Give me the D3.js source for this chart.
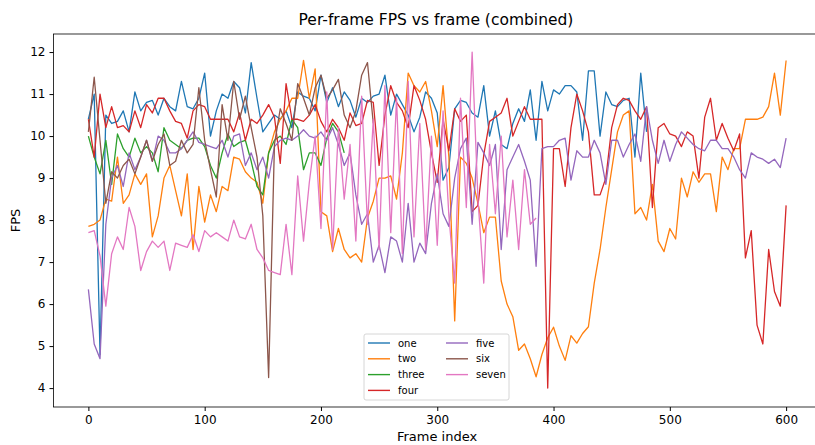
<!DOCTYPE html>
<html>
<head>
<meta charset="utf-8">
<script src="https://cdn.jsdelivr.net/npm/d3@7"></script>
<style>
  body { margin: 0; background: #fff; }
  svg text { font-family: "DejaVu Sans", sans-serif; fill: #000; }
</style>
</head>
<body>
<div id="chart"></div>
<script>
const FRAME_STEP = 5;

const seriesNames = ["one", "two", "three", "four", "five", "six", "seven"];
const seriesColors = ["#1f77b4", "#ff7f0e", "#2ca02c", "#d62728", "#9467bd", "#8c564b", "#e377c2"];

const xTicks = [0, 100, 200, 300, 400, 500, 600];
const yTicks = [4, 5, 6, 7, 8, 9, 10, 11, 12];

/* fps values, one point every FRAME_STEP frames, starting at frame 0 */
const one = [10.4, 11.0, 4.8, 10.5, 10.3, 10.35, 10.6, 10.1, 11.05, 10.6, 10.8, 10.85, 10.5, 10.9, 10.7, 10.6,
  11.3, 10.7, 10.65, 10.9, 11.5, 10.0, 10.6, 11.0, 10.9, 11.3, 11.15, 10.55, 11.75, 10.9, 10.1, 10.3, 10.5,
  10.4, 10.6, 10.2, 11.05, 10.95, 10.9, 10.6, 11.45, 10.8, 11.15, 10.7, 11.05, 10.85, 10.45, 10.9, 10.8,
  10.95, 11.0, 11.45, 10.5, 11.0, 10.75, 10.5, 10.1, 10.45, 11.05, 10.9, 10.55, 8.95, 9.25, 10.65, 10.85,
  10.8, 10.55, 10.45, 11.2, 10.0, 10.6, 9.8, 9.7, 10.3, 10.65, 10.35, 11.1, 9.9, 11.3, 10.6, 11.1, 11.0,
  11.2, 11.2, 11.05, 9.9, 11.55, 11.55, 10.0, 11.05, 10.75, 10.7, 10.85, 10.9, 9.5, 11.5, 10.1];

const two = [7.85, 7.9, 8.0, 8.5, 8.45, 9.5, 8.4, 8.6, 9.1, 8.85, 9.1, 7.6, 8.1, 9.0, 9.3, 8.7, 8.1, 9.1,
  7.3, 8.8, 7.95, 8.6, 8.2, 8.8, 8.7, 9.5, 9.45, 9.15, 9.0, 8.9, 8.4, 9.6, 10.1, 10.4, 10.6, 10.9, 10.9,
  11.8, 10.9, 11.6, 8.2, 8.1, 7.25, 7.8, 7.3, 7.1, 7.2, 7.0, 8.05, 8.45, 9.0, 9.0, 9.05, 8.5, 9.6, 11.5,
  11.2, 11.05, 11.3, 10.6, 9.75, 11.2, 9.5, 5.6, 9.5, 9.35, 9.0, 8.4, 7.7, 8.07, 8.07, 6.55, 6.0, 5.7, 4.9,
  5.05, 4.7, 4.27, 4.8, 5.2, 5.45, 5.0, 4.66, 5.25, 5.07, 5.3, 5.46, 6.5, 7.3, 8.3, 9.2, 10.1, 10.5, 10.6,
  8.15, 8.3, 8.0, 8.85, 7.5, 7.25, 7.8, 7.55, 9.0, 8.55, 9.15, 8.9, 9.1, 9.1, 8.2, 9.5, 9.2, 9.7, 9.7, 10.4,
  10.4, 10.4, 10.45, 10.7, 11.5, 10.5, 11.8];

const three = [10.0, 9.5, 9.1, 9.9, 8.85, 10.05, 9.7, 9.5, 9.95, 9.6, 9.75, 9.6, 9.15, 10.2, 9.9, 9.8, 9.7,
  9.9, 9.95, 9.95, 9.75, 9.3, 9.0, 9.6, 10.05, 9.75, 9.85, 9.9, 9.4, 8.8, 8.6, 9.6, 9.9, 10.0, 9.8, 10.4,
  10.2, 9.2, 9.6, 9.6, 9.3, 9.95, 10.3, 10.1, 9.6];

const four = [10.4, 9.5, 11.0, 10.2, 10.7, 10.2, 10.25, 10.1, 10.6, 10.2, 10.75, 10.55, 10.9, 10.9, 10.6,
  10.35, 10.3, 9.95, 10.6, 10.75, 10.7, 10.4, 10.4, 10.4, 10.4, 10.1, 10.55, 9.9, 10.4, 10.3, 10.5, 10.75,
  10.45, 9.35, 11.25, 10.4, 10.4, 10.35, 10.5, 10.75, 10.35, 10.1, 10.4, 10.2, 9.9, 10.55, 10.25, 10.3,
  10.85, 10.8, 9.3, 10.5, 11.2, 10.8, 10.6, 10.2, 11.2, 10.85, 10.4, 9.6, 8.9, 10.4, 9.65, 10.65, 10.35,
  10.5, 8.2, 8.35, 9.55, 10.35, 10.45, 10.55, 10.9, 10.0, 10.35, 10.7, 10.4, 10.4, 10.4, 4.0, 9.7, 9.7, 8.8,
  10.2, 11.0, 10.6, 10.1, 8.6, 8.6, 9.0, 10.2, 10.75, 10.9, 10.85, 10.6, 10.4, 10.7, 8.3, 10.2, 10.3, 10.05,
  10.0, 9.75, 10.1, 10.0, 9.0, 10.45, 10.9, 9.9, 10.3, 9.95, 9.65, 10.05, 7.1, 7.75, 5.5, 5.05, 7.3, 6.3,
  5.95, 8.35];

const five = [6.35, 5.05, 4.7, 7.9, 9.0, 9.3, 8.8, 9.6, 9.2, 9.5, 9.9, 9.4, 10.0, 9.9, 9.6, 9.6, 9.7, 9.9,
  10.1, 9.85, 9.8, 9.75, 9.7, 9.9, 9.5, 10.0, 10.05, 9.3, 9.6, 9.2, 9.5, 9.0, 9.75, 9.9, 9.95, 9.9, 10.0,
  10.15, 10.0, 9.95, 10.1, 9.9, 10.2, 9.8, 9.3, 9.6, 8.6, 7.9, 8.15, 7.0, 7.4, 6.75, 7.6, 7.5, 7.0, 8.4,
  7.0, 7.45, 7.2, 8.4, 9.1, 8.15, 7.85, 9.0, 9.7, 9.95, 7.9, 9.85, 9.6, 9.3, 9.8, 7.3, 9.2, 9.5, 9.8, 9.4,
  8.95, 6.9, 9.7, 9.75, 9.75, 9.9, 9.95, 8.95, 9.65, 9.5, 9.5, 9.9, 9.6, 8.85, 9.9, 9.9, 9.5, 9.8, 10.05,
  9.4, 10.7, 9.9, 9.35, 9.9, 9.4, 9.8, 10.1, 9.95, 9.8, 9.7, 9.65, 9.9, 9.9, 9.7, 9.7, 9.5, 9.2, 9.0, 9.6,
  9.5, 9.45, 9.35, 9.45, 9.25, 9.95];

const six = [10.1, 11.4, 9.9, 8.4, 9.15, 9.0, 9.3, 9.45, 9.1, 9.5, 9.9, 9.4, 9.8, 10.05, 9.3, 9.4, 9.9, 9.6,
  9.8, 11.15, 9.9, 9.2, 8.55, 10.75, 9.9, 11.3, 10.4, 10.95, 10.2, 9.5, 8.1, 4.25, 9.8, 10.65, 10.3, 9.9,
  11.25, 10.9, 10.5, 11.15, 11.45, 10.9, 11.1, 11.35, 10.5, 10.2, 10.6, 11.45, 11.75, 10.3];

const seven = [7.7, 7.75, 7.15, 5.95, 7.2, 7.6, 7.3, 8.3, 7.85, 6.8, 7.25, 7.5, 7.35, 7.5, 6.8, 7.45, 7.4,
  7.35, 7.65, 7.25, 7.75, 7.6, 7.7, 7.6, 7.5, 8.0, 7.6, 7.55, 7.9, 7.3, 7.1, 6.8, 6.75, 6.7, 7.9, 6.7, 9.05,
  7.5, 8.9, 10.0, 7.8, 11.05, 7.3, 10.2, 8.5, 9.8, 7.5, 10.95, 7.9, 10.4, 7.3, 11.2, 7.7, 10.9, 7.2, 11.3,
  7.6, 10.3, 7.3, 10.0, 7.4, 10.6, 8.1, 6.5, 10.9, 8.3, 12.0, 8.5, 6.5, 9.8, 8.15, 10.0, 7.6, 8.95, 7.3,
  9.2, 7.9, 8.05];

const seriesValues = [one, two, three, four, five, six, seven];

const margin = { top: 34, left: 53.5 };
const plotRight = 821;
const plotBottom = 407;

const svg = d3.select("#chart")
  .append("svg")
  .attr("width", 815)
  .attr("height", 445);

const x = d3.scaleLinear().domain([-30, 630]).range([margin.left, plotRight]);
const y = d3.scaleLinear().domain([3.55, 12.43]).range([plotBottom, margin.top]);

// axes
svg.append("g")
  .attr("transform", `translate(0,${plotBottom})`)
  .call(d3.axisBottom(x).tickValues(xTicks).tickSize(4).tickPadding(4).tickFormat(d3.format("d")))
  .call(g => g.select(".domain").remove())
  .call(g => g.selectAll("text").style("font-size", "12px"));

svg.append("g")
  .attr("transform", `translate(${margin.left},0)`)
  .call(d3.axisLeft(y).tickValues(yTicks).tickSize(4).tickPadding(4).tickFormat(d3.format("d")))
  .call(g => g.select(".domain").remove())
  .call(g => g.selectAll("text").style("font-size", "12px"));

// lines
const line = d3.line()
  .x((d, i) => x(i * FRAME_STEP))
  .y(d => y(d));

svg.append("g")
  .selectAll("path")
  .data(seriesValues)
  .enter()
  .append("path")
  .attr("d", line)
  .attr("fill", "none")
  .attr("stroke", (d, i) => seriesColors[i])
  .attr("stroke-width", 1.3)
  .attr("stroke-linejoin", "round");

// frame
svg.append("rect")
  .attr("x", margin.left)
  .attr("y", margin.top)
  .attr("width", plotRight - margin.left)
  .attr("height", plotBottom - margin.top)
  .attr("fill", "none")
  .attr("stroke", "#000")
  .attr("stroke-width", 0.8);

// titles
svg.append("text")
  .attr("x", 436)
  .attr("y", 25)
  .attr("text-anchor", "middle")
  .style("font-size", "15.5px")
  .text("Per-frame FPS vs frame (combined)");

svg.append("text")
  .attr("x", 437)
  .attr("y", 441)
  .attr("text-anchor", "middle")
  .style("font-size", "13px")
  .text("Frame index");

svg.append("text")
  .attr("transform", `translate(20,${(margin.top + plotBottom) / 2}) rotate(-90)`)
  .attr("text-anchor", "middle")
  .style("font-size", "13px")
  .text("FPS");

// legend
const legend = svg.append("g").attr("transform", "translate(364,334)");
legend.append("rect")
  .attr("width", 145)
  .attr("height", 66)
  .attr("rx", 2)
  .attr("fill", "#fff")
  .attr("fill-opacity", 0.8)
  .attr("stroke", "#ccc")
  .attr("stroke-width", 0.8);

const items = legend.selectAll("g.item")
  .data(seriesNames)
  .enter()
  .append("g")
  .attr("class", "item")
  .attr("transform", (d, i) => `translate(${i < 4 ? 4 : 82},${9 + (i % 4) * 15.8})`);

items.append("line")
  .attr("x1", 0).attr("x2", 22)
  .attr("stroke", (d, i) => seriesColors[i])
  .attr("stroke-width", 1.4);

items.append("text")
  .attr("x", 30)
  .attr("dy", "0.35em")
  .style("font-size", "10px")
  .text(d => d);
</script>
</body>
</html>
